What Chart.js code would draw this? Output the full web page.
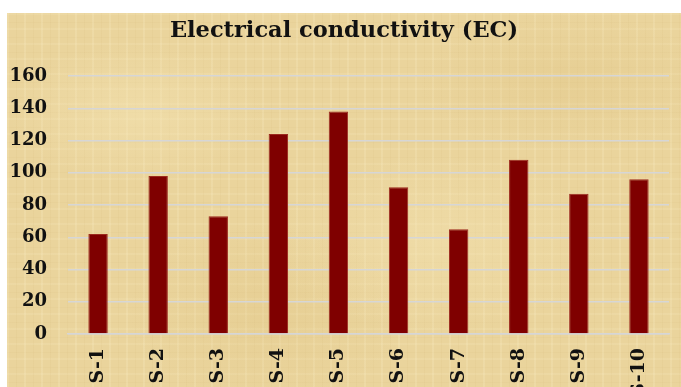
<!DOCTYPE html>
<html>
<head>
<meta charset="utf-8">
<script src="https://cdn.jsdelivr.net/npm/chart.js@4.4.1/dist/chart.umd.min.js"></script>
<style>
  html, body { margin: 0; padding: 0; background: #ffffff; overflow: hidden; width: 681px; height: 387px; }
  #wrap {
    position: absolute; left: 7px; top: 13px; width: 674px; height: 400px;
    background-color: #ead49c;
    background-image:
      radial-gradient(ellipse 130px 70px at 130px 100px, rgba(246,230,182,0.45), transparent),
      radial-gradient(ellipse 170px 90px at 430px 230px, rgba(246,230,182,0.40), transparent),
      radial-gradient(ellipse 150px 70px at 560px 70px, rgba(222,194,128,0.30), transparent),
      radial-gradient(ellipse 140px 90px at 260px 300px, rgba(222,194,128,0.28), transparent),
      repeating-linear-gradient(90deg, rgba(250,238,198,0.22) 0 2px, transparent 2px 9px, rgba(200,168,100,0.08) 9px 10px, transparent 10px 17px),
      repeating-linear-gradient(0deg, rgba(200,168,100,0.07) 0 1px, transparent 1px 8px, rgba(250,238,198,0.16) 8px 10px, transparent 10px 15px);
  }
  canvas { display: block; }
</style>
</head>
<body>
<div id="wrap"><canvas id="chart" width="674" height="400"></canvas></div>
<script>
// Electrical conductivity per sample
const categories = ['S-1', 'S-2', 'S-3', 'S-4', 'S-5', 'S-6', 'S-7', 'S-8', 'S-9', 'S-10'];
const ecValues = [62, 98, 73, 124, 138, 91, 65, 108, 87, 96];
const yTicks = [0, 20, 40, 60, 80, 100, 120, 140, 160];

const serif = "'DejaVu Serif', 'Liberation Serif', serif";

new Chart(document.getElementById('chart'), {
  type: 'bar',
  data: {
    labels: categories,
    datasets: [{
      label: 'EC',
      data: ecValues,
      backgroundColor: '#7f0000',
      borderColor: '#9c2a1e',
      borderWidth: 1,
      categoryPercentage: 1,
      barPercentage: 0.323
    }]
  },
  options: {
    responsive: false,
    animation: false,
    events: [],
    layout: { padding: 0 },
    plugins: {
      legend: { display: false },
      tooltip: { enabled: false },
      title: {
        display: true,
        text: 'Electrical conductivity (EC)',
        color: '#111',
        font: { family: serif, size: 22.5, weight: 'bold' },
        padding: { top: 5, bottom: 31 }
      }
    },
    scales: {
      x: {
        grid: { display: false, drawTicks: false },
        border: { display: true, color: '#d6d6d6', width: 1.5 },
        ticks: {
          color: '#111',
          font: { family: serif, size: 19, weight: 'bold' },
          minRotation: 90,
          maxRotation: 90,
          padding: 14,
          autoSkip: false
        },
        afterFit(scale) { scale.height = 79; }
      },
      y: {
        min: 0,
        max: 160,
        afterBuildTicks(scale) { scale.ticks = yTicks.map(v => ({ value: v })); },
        grid: { color: '#d6d6d6', lineWidth: 1.5, drawTicks: false },
        border: { display: false },
        ticks: {
          color: '#111',
          font: { family: serif, size: 18, weight: 'bold' },
          padding: 21
        },
        afterFit(scale) { scale.width = 61; }
      },
      // empty right-hand margin so the title stays centred on the full width
      yRight: {
        position: 'right',
        display: true,
        grid: { display: false, drawTicks: false },
        border: { display: false },
        ticks: { display: false },
        afterFit(scale) { scale.width = 12; }
      }
    }
  }
});
</script>
</body>
</html>
